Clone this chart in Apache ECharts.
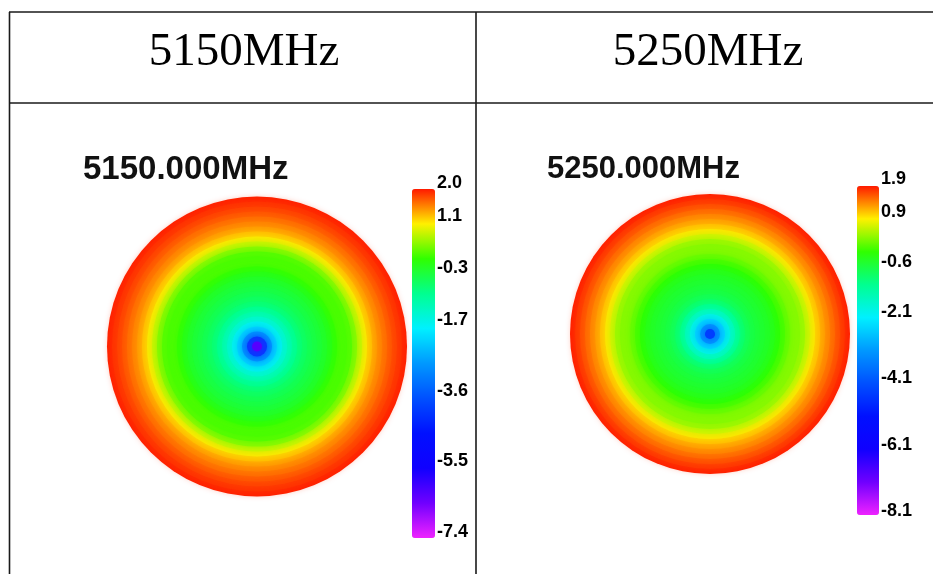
<!DOCTYPE html>
<html>
<head>
<meta charset="utf-8">
<script src="https://cdn.jsdelivr.net/npm/echarts@6/dist/echarts.min.js"></script>
<style>
  html, body { margin: 0; padding: 0; background: #fff; }
  #main { width: 933px; height: 574px; }
</style>
</head>
<body>
<div id="main"></div>
<script>
// column headers
var headers = ['5150MHz', '5250MHz'];
var titles = ['5150.000MHz', '5250.000MHz'];

// radial profile, radius as fraction of plot radius (centre -> edge), gain in dB
var leftRadius = [0.033, 0.067, 0.1, 0.133, 0.167, 0.2, 0.233, 0.267, 0.3, 0.333,
  0.367, 0.4, 0.433, 0.467, 0.5, 0.533, 0.567, 0.6, 0.633, 0.667,
  0.7, 0.733, 0.767, 0.8, 0.833, 0.867, 0.9, 0.933, 0.967, 1.0];
var leftGain = [-6.2, -3.9, -2.7, -2.05, -1.6, -1.25, -1.0, -0.78, -0.6, -0.48,
  -0.38, -0.3, -0.22, -0.12, 0.0, 0.15, 0.26, 0.24, 0.3, 0.55,
  0.85, 1.1, 1.3, 1.45, 1.55, 1.65, 1.75, 1.83, 1.9, 1.97];

var rightRadius = [0.036, 0.071, 0.107, 0.143, 0.179, 0.214, 0.25, 0.286, 0.321, 0.357,
  0.393, 0.429, 0.464, 0.5, 0.536, 0.571, 0.607, 0.643, 0.679, 0.714,
  0.75, 0.786, 0.821, 0.857, 0.893, 0.929, 0.964, 1.0];
var rightGain = [-4.4, -3.1, -2.4, -1.85, -1.4, -1.05, -0.8, -0.65, -0.55, -0.48,
  -0.42, -0.35, -0.25, -0.12, 0.05, 0.2, 0.32, 0.32, 0.45, 0.7,
  0.95, 1.15, 1.3, 1.42, 1.55, 1.67, 1.78, 1.87];

// colour bar ticks
var leftTicks = [2.0, 1.1, -0.3, -1.7, -3.6, -5.5, -7.4];
var rightTicks = [1.9, 0.9, -0.6, -2.1, -4.1, -6.1, -8.1];

var rainbow = ['#ee22ff', '#7000ff', '#1000ff', '#0010ff', '#0050ff', '#0098ff',
  '#00f0ff', '#00ff90', '#30ff00', '#fff000', '#ff1a00'];

function ringData(radius, gain) {
  // outer rings first so the inner discs sit on top
  var d = radius.map(function (r, i) { return [r, 0, gain[i]]; });
  return d.reverse();
}

function renderDisc(params, api) {
  var cs = params.coordSys;
  var p = api.coord([api.value(0), api.value(1)]);
  var rr = Math.sqrt((p[0] - cs.cx) * (p[0] - cs.cx) + (p[1] - cs.cy) * (p[1] - cs.cy));
  var c = api.visual('color');
  var outer = api.value(0) >= 1;
  return {
    type: 'circle',
    shape: { cx: cs.cx, cy: cs.cy, r: rr },
    style: { fill: c, shadowBlur: outer ? 0 : 9, shadowColor: c }
  };
}

var labelStyle = {
  show: true, inside: false, margin: 2, color: '#000',
  fontFamily: 'Liberation Sans', fontWeight: 'bold', fontSize: 18,
  formatter: function (v) { return v.toFixed(1); }
};

var lineStyle = { stroke: '#1a1a1a', lineWidth: 1.6 };

var chart = echarts.init(document.getElementById('main'));

var option = {
  animation: false,
  backgroundColor: '#fff',
  title: [
    { text: titles[0], left: 78, top: 148,
      textStyle: { fontFamily: 'Liberation Sans', fontWeight: 'bold', fontSize: 33, color: '#111' } },
    { text: titles[1], left: 542, top: 149,
      textStyle: { fontFamily: 'Liberation Sans', fontWeight: 'bold', fontSize: 31, color: '#111' } }
  ],
  graphic: [
    { type: 'line', shape: { x1: 9, y1: 12, x2: 933, y2: 12 }, style: lineStyle },
    { type: 'line', shape: { x1: 9, y1: 103, x2: 933, y2: 103 }, style: lineStyle },
    { type: 'line', shape: { x1: 9.5, y1: 12, x2: 9.5, y2: 574 }, style: lineStyle },
    { type: 'line', shape: { x1: 476, y1: 12, x2: 476, y2: 574 }, style: lineStyle },
    { type: 'text', x: 244, y: 53,
      style: { text: headers[0], fill: '#000', fontFamily: 'Liberation Serif', fontSize: 47,
        textAlign: 'center', textVerticalAlign: 'middle' } },
    { type: 'text', x: 708, y: 53,
      style: { text: headers[1], fill: '#000', fontFamily: 'Liberation Serif', fontSize: 47,
        textAlign: 'center', textVerticalAlign: 'middle' } }
  ],
  polar: [
    { center: [257, 346.5], radius: 150 },
    { center: [710, 334], radius: 140 }
  ],
  radiusAxis: [
    { polarIndex: 0, min: 0, max: 1, show: false },
    { polarIndex: 1, min: 0, max: 1, show: false }
  ],
  angleAxis: [
    { polarIndex: 0, min: 0, max: 360, show: false },
    { polarIndex: 1, min: 0, max: 360, show: false }
  ],
  grid: [
    { left: 412, top: 183, width: 23, height: 349 },
    { left: 857, top: 179, width: 22, height: 332 }
  ],
  xAxis: [
    { gridIndex: 0, type: 'value', show: false },
    { gridIndex: 1, type: 'value', show: false }
  ],
  yAxis: [
    { gridIndex: 0, type: 'value', position: 'right', min: -7.4, max: 2.0,
      axisLine: { show: false }, axisTick: { show: false }, splitLine: { show: false },
      axisLabel: Object.assign({ customValues: leftTicks }, labelStyle) },
    { gridIndex: 1, type: 'value', position: 'right', min: -8.1, max: 1.9,
      axisLine: { show: false }, axisTick: { show: false }, splitLine: { show: false },
      axisLabel: Object.assign({ customValues: rightTicks }, labelStyle) }
  ],
  visualMap: [
    { type: 'continuous', seriesIndex: 0, dimension: 2, min: -7.4, max: 2.0,
      left: 412, top: 189, itemWidth: 23, itemHeight: 349, padding: 0,
      calculable: false, text: null, showLabel: false, realtime: false,
      inRange: { color: rainbow } },
    { type: 'continuous', seriesIndex: 1, dimension: 2, min: -8.1, max: 1.9,
      left: 857, top: 186, itemWidth: 22, itemHeight: 329, padding: 0,
      calculable: false, text: null, showLabel: false, realtime: false,
      inRange: { color: rainbow } }
  ],
  series: [
    { type: 'custom', coordinateSystem: 'polar', polarIndex: 0, silent: true,
      encode: { radius: 0, angle: 1 }, renderItem: renderDisc,
      data: ringData(leftRadius, leftGain) },
    { type: 'custom', coordinateSystem: 'polar', polarIndex: 1, silent: true,
      encode: { radius: 0, angle: 1 }, renderItem: renderDisc,
      data: ringData(rightRadius, rightGain) }
  ]
};

chart.setOption(option);
</script>
</body>
</html>
